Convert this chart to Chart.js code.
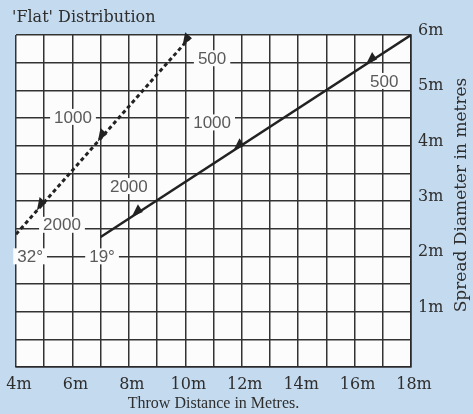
<!DOCTYPE html>
<html>
<head>
<meta charset="utf-8">
<script src="https://cdn.jsdelivr.net/npm/chart.js@4.4.1/dist/chart.umd.min.js"></script>
<style>
  html, body { margin: 0; padding: 0; background: #c4daee; }
  #wrap { width: 473px; height: 414px; }
</style>
</head>
<body>
<div id="wrap"><canvas id="chart" width="473" height="414"></canvas></div>
<script>
// 19 degree nozzle (solid) and 32 degree nozzle (dashed)
const throw19 = [7, 18];
const spread19 = [2.35, 6];
const throw32 = [4, 10.24];
const spread32 = [2.4, 6];

// where the rpm arrows sit on each line (throw distance)
const arrows19 = [8.1, 11.7, 16.4];
const arrows32 = [4.74, 6.9, 9.9];

// rpm / angle labels written on the grid
const noteText = ["500", "1000", "2000", "500", "1000", "2000", "32°", "19°"];
const noteX = [10.95, 6.02, 5.63, 17.05, 10.95, 8.0, 4.5, 7.05];
const noteY = [5.58, 4.52, 2.57, 5.17, 4.42, 3.27, 2.0, 2.0];

const SERIF = "'DejaVu Serif', serif";
const INK = "#2e2e2e";

function toPoints(xs, ys) {
  return xs.map((x, i) => ({ x: x, y: ys[i] }));
}

/* ===== DECORATION: panel, notes, arrows, titles ===== */
const decor = {
  id: "decor",
  beforeDraw(chart) {
    const { ctx, chartArea: a } = chart;
    ctx.save();
    ctx.fillStyle = "#c4daee";
    ctx.fillRect(0, 0, chart.width, chart.height);
    ctx.fillStyle = "#fcfcfc";
    ctx.fillRect(a.left, a.top, a.right - a.left, a.bottom - a.top);
    ctx.restore();
  },
  beforeDatasetsDraw(chart) {
    const { ctx, scales } = chart;
    ctx.save();
    ctx.font = "17px 'Liberation Sans', sans-serif";
    ctx.textAlign = "center";
    ctx.textBaseline = "middle";
    noteText.forEach((t, i) => {
      const px = scales.x.getPixelForValue(noteX[i]);
      const py = scales.y.getPixelForValue(noteY[i]);
      const w = ctx.measureText(t).width;
      ctx.fillStyle = "#fcfcfc";
      ctx.fillRect(px - w / 2 - 4, py - 8, w + 8, 16);
      ctx.fillStyle = "#5a5a5a";
      ctx.fillText(t, px, py + 1);
    });
    ctx.restore();
  },
  afterDatasetsDraw(chart) {
    const { ctx, scales } = chart;
    const drawArrows = (xs, ys, at) => {
      const x0 = scales.x.getPixelForValue(xs[0]), y0 = scales.y.getPixelForValue(ys[0]);
      const x1 = scales.x.getPixelForValue(xs[1]), y1 = scales.y.getPixelForValue(ys[1]);
      const len = Math.hypot(x1 - x0, y1 - y0);
      const ux = (x1 - x0) / len, uy = (y1 - y0) / len;
      const nx = uy, ny = -ux; // perpendicular, pointing up-left
      at.forEach(v => {
        const px = scales.x.getPixelForValue(v);
        const t = (px - x0) / (x1 - x0);
        const tx = x0 + t * (x1 - x0), ty = y0 + t * (y1 - y0);
        const bx = tx + ux * 12, by = ty + uy * 12;
        ctx.beginPath();
        ctx.moveTo(tx, ty);
        ctx.lineTo(bx + nx * 7, by + ny * 7);
        ctx.lineTo(bx - nx * 2, by - ny * 2);
        ctx.closePath();
        ctx.fill();
      });
    };
    ctx.save();
    ctx.fillStyle = "#222";
    drawArrows(throw19, spread19, arrows19);
    drawArrows(throw32, spread32, arrows32);
    ctx.restore();
  },
  afterDraw(chart) {
    const { ctx } = chart;
    ctx.save();
    ctx.fillStyle = INK;
    ctx.font = "16px " + SERIF;
    ctx.textAlign = "left";
    ctx.textBaseline = "middle";
    ctx.fillText("'Flat' Distribution", 12, 18);

    ctx.font = "17px " + SERIF;
    ctx.translate(462, 195);
    ctx.rotate(-Math.PI / 2);
    ctx.textAlign = "center";
    ctx.fillText("Spread Diameter in metres", 0, 0);
    ctx.restore();
  }
};

new Chart(document.getElementById("chart"), {
  type: "line",
  data: {
    datasets: [
      {
        data: toPoints(throw19, spread19),
        borderColor: "#222",
        borderWidth: 2.5,
        pointRadius: 0
      },
      {
        data: toPoints(throw32, spread32),
        borderColor: "#222",
        borderWidth: 3,
        borderDash: [4, 3],
        pointRadius: 0
      }
    ]
  },
  options: {
    responsive: false,
    animation: false,
    layout: { padding: { top: 35, left: 16, right: 0, bottom: 0 } },
    plugins: {
      legend: { display: false },
      tooltip: { enabled: false }
    },
    scales: {
      x: {
        type: "linear",
        position: "bottom",
        min: 4,
        max: 18,
        afterFit: s => { s.height = 47; s.paddingLeft = 0; s.paddingRight = 0; },
        grid: { color: "#333", lineWidth: 1.5, drawTicks: false },
        border: { color: "#2a2a2a", width: 1.6 },
        ticks: {
          stepSize: 1,
          autoSkip: false,
          maxRotation: 0,
          padding: 8,
          labelOffset: 3,
          color: INK,
          font: { family: SERIF, size: 16 },
          callback: v => (v % 2 === 0 ? v + "m" : "")
        },
        title: {
          display: true,
          text: "Throw Distance in Metres.",
          color: INK,
          font: { family: "'Liberation Serif', serif", size: 16 },
          padding: { top: 0, bottom: 1 }
        }
      },
      y: {
        type: "linear",
        position: "right",
        min: 0,
        max: 6,
        afterFit: s => { s.width = 62; s.paddingTop = 0; s.paddingBottom = 0; },
        grid: { color: "#333", lineWidth: 1.5, drawTicks: false },
        border: { color: "#2a2a2a", width: 1.6 },
        ticks: {
          stepSize: 0.5,
          autoSkip: false,
          padding: 7,
          labelOffset: -4,
          color: INK,
          font: { family: SERIF, size: 16 },
          callback: v => (Number.isInteger(v) && v > 0 ? v + "m" : "")
        }
      }
    }
  },
  plugins: [decor]
});
</script>
</body>
</html>
